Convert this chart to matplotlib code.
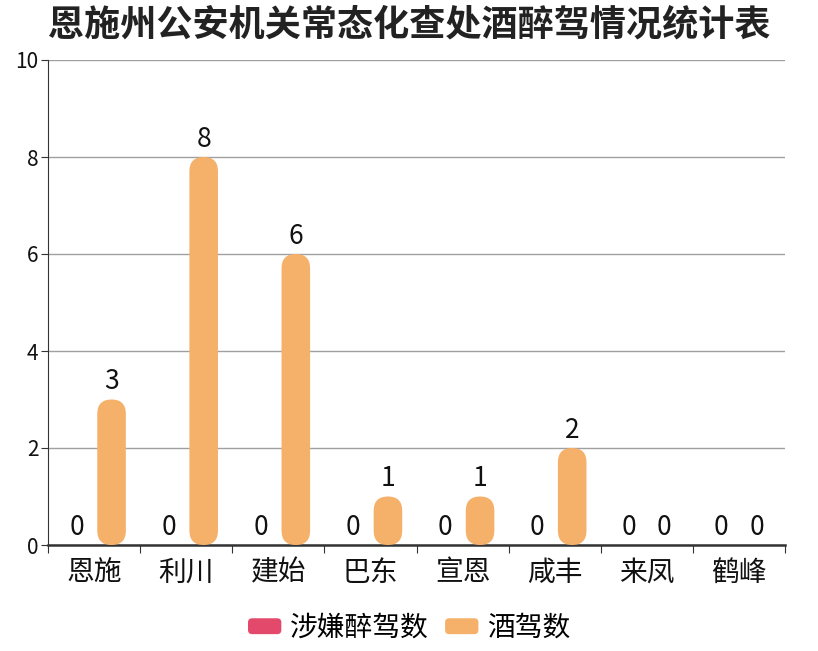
import matplotlib
matplotlib.use("Agg")
import matplotlib.pyplot as plt
from matplotlib.patches import FancyBboxPatch
from matplotlib.legend_handler import HandlerPatch

plt.rcParams['font.family'] = ['Noto Sans CJK SC', 'DejaVu Sans']

title = "恩施州公安机关常态化查处酒醉驾情况统计表"
categories = ["恩施", "利川", "建始", "巴东", "宣恩", "咸丰", "来凤", "鹤峰"]
series_names = ["涉嫌醉驾数", "酒驾数"]
drunk = [0, 0, 0, 0, 0, 0, 0, 0]
drink = [3, 8, 6, 1, 1, 2, 0, 0]
colors = ["#E2496B", "#F5B06A"]
yticks = [0, 2, 4, 6, 8, 10]

W, H = 818, 651
fig = plt.figure(figsize=(W / 100, H / 100), dpi=100)
left, right, bottom, top = 48, 785, 545, 60
ax = fig.add_axes([left / W, 1 - bottom / H, (right - left) / W, (bottom - top) / H])
n = len(categories)
ax.set_xlim(-0.5, n - 0.5)
ax.set_ylim(0, 10)

px_x = (right - left) / n          # px per x unit
px_y = (bottom - top) / 10          # px per y unit
aspect = (1 / px_y) / (1 / px_x)

bw = 0.31
offsets = [-0.19, 0.19]
for s, vals in enumerate([drunk, drink]):
    for i, v in enumerate(vals):
        xc = i + offsets[s]
        if v > 0:
            r = bw / 2
            p = FancyBboxPatch((xc - bw / 2, 0), bw, v,
                               boxstyle=f"round,pad=0,rounding_size={r}",
                               mutation_aspect=aspect, fc=colors[s], ec="none",
                               zorder=3, clip_on=False)
            ax.add_patch(p)
        ax.annotate(str(v), (xc, v), xytext=(0, 3), textcoords="offset points",
                    ha="center", va="bottom", fontsize=19, color="#111111", zorder=4)

ax.set_yticks(yticks)
ax.set_yticklabels([str(t) for t in yticks], fontsize=15, color="#111111")
ax.tick_params(axis="y", length=5, color="#333333", pad=2)
ax.grid(axis="y", color="#a0a0a0", linewidth=1, zorder=0)
ax.set_axisbelow(True)

ax.set_xticks([i - 0.5 for i in range(n + 1)])
ax.set_xticklabels([])
ax.tick_params(axis="x", which="major", length=6, color="#333333")
ax.set_xticks(list(range(n)), minor=True)
ax.set_xticklabels(categories, minor=True, fontsize=20, color="#111111")
ax.tick_params(axis="x", which="minor", length=0, pad=9)

for sp in ["top", "right"]:
    ax.spines[sp].set_visible(False)
ax.spines["left"].set_color("#333333")
ax.spines["bottom"].set_color("#333333")
ax.spines["bottom"].set_linewidth(1.8)

fig.text(0.5, 1 - 25 / H, title, ha="center", va="center", fontsize=26,
         fontweight="bold", color="#222222")


class RoundHandler(HandlerPatch):
    def create_artists(self, legend, orig_handle, xdescent, ydescent, width,
                       height, fontsize, trans):
        p = FancyBboxPatch((-xdescent, -ydescent + height * 0.05), width, height * 0.9,
                           boxstyle="round,pad=0,rounding_size=3",
                           fc=orig_handle.get_facecolor(), ec="none", transform=trans)
        return [p]


handles = [FancyBboxPatch((0, 0), 1, 1, fc=c, ec="none") for c in colors]
fig.legend(handles, series_names, loc="center", bbox_to_anchor=(0.5, 1 - 628 / H),
           ncol=2, frameon=False, fontsize=20, handler_map={FancyBboxPatch: RoundHandler()},
           handlelength=1.2, handleheight=0.6, handletextpad=0.3, columnspacing=0.6)

fig.savefig("out.png", dpi=100)
